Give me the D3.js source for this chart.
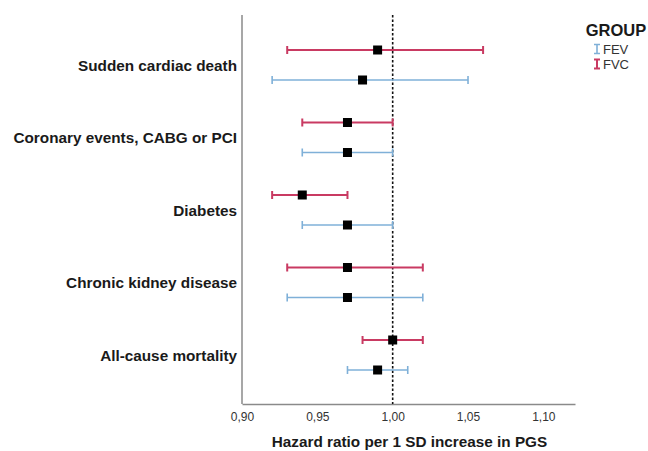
<!DOCTYPE html>
<html><head><meta charset="utf-8">
<script src="https://cdn.jsdelivr.net/npm/d3@7"></script>
<style>body{margin:0;background:#fff}svg{display:block}</style>
</head><body>
<svg id="chart" width="648" height="451"></svg>
<script>
const categories = ["Sudden cardiac death","Coronary events, CABG or PCI","Diabetes","Chronic kidney disease","All-cause mortality"];
const groups = ["FVC","FEV"];
const fvcEst = [0.99,0.97,0.94,0.97,1.00];
const fvcLow = [0.93,0.94,0.92,0.93,0.98];
const fvcHigh = [1.06,1.00,0.97,1.02,1.02];
const fevEst = [0.98,0.97,0.97,0.97,0.99];
const fevLow = [0.92,0.94,0.94,0.93,0.97];
const fevHigh = [1.05,1.00,1.00,1.02,1.01];
const xTicks = [0.90,0.95,1.00,1.05,1.10];
const legendItems = ["FEV","FVC"];

(function(){
const colors = {FEV:"#7fb0d8", FVC:"#c93a62"};
const svg = d3.select("#chart");
const pl = 242, pr = 575, pt = 15, pb = 404;
const font = "Liberation Sans, Arial, sans-serif";

const x = d3.scaleLinear().domain([0.90,1.121]).range([pl,pr]);
const y = d3.scalePoint().domain(categories).range([65,355]);
const yg = d3.scalePoint().domain(groups).range([-15,15]);

const rows = [];
categories.forEach((c,i)=>{
  rows.push({cat:c,g:"FVC",est:fvcEst[i],lo:fvcLow[i],hi:fvcHigh[i]});
  rows.push({cat:c,g:"FEV",est:fevEst[i],lo:fevLow[i],hi:fevHigh[i]});
});

const xAxis = d3.axisBottom(x).tickValues(xTicks).tickSize(0).tickPadding(8)
  .tickFormat(d=>d3.format(".2f")(d).replace(".",","));
const gx = svg.append("g").attr("transform",`translate(0,${pb})`).call(xAxis);
gx.select(".domain").attr("stroke","#8a8a8a").attr("stroke-width",1.5);
gx.selectAll("text").attr("font-family",font).attr("font-size",12).attr("fill","#333");

svg.append("line").attr("x1",pl).attr("x2",pl).attr("y1",pt).attr("y2",pb)
  .attr("stroke","#8a8a8a").attr("stroke-width",1.5);

svg.append("line").attr("x1",x(1)).attr("x2",x(1)).attr("y1",pt).attr("y2",pb)
  .attr("stroke","#111").attr("stroke-width",1.6).attr("stroke-dasharray","2.5,2");

svg.append("g").selectAll("text").data(categories).join("text")
  .attr("x",237).attr("y",d=>y(d)+5.5).attr("text-anchor","end")
  .attr("font-family",font).attr("font-weight","bold")
  .attr("font-size",15.3).attr("fill","#1a1a1a").text(d=>d);

const eb = svg.append("g").selectAll("g").data(rows).join("g")
  .attr("transform",d=>`translate(0,${y(d.cat)+yg(d.g)})`);
const sw = d=>d.g==="FVC"?2:1.6;
eb.append("line").attr("x1",d=>x(d.lo)).attr("x2",d=>x(d.hi)).attr("y1",0).attr("y2",0)
  .attr("stroke",d=>colors[d.g]).attr("stroke-width",sw);
eb.append("line").attr("x1",d=>x(d.lo)).attr("x2",d=>x(d.lo)).attr("y1",-4).attr("y2",4)
  .attr("stroke",d=>colors[d.g]).attr("stroke-width",sw);
eb.append("line").attr("x1",d=>x(d.hi)).attr("x2",d=>x(d.hi)).attr("y1",-4).attr("y2",4)
  .attr("stroke",d=>colors[d.g]).attr("stroke-width",sw);
eb.append("rect").attr("x",d=>x(d.est)-4.5).attr("y",-4.5).attr("width",9).attr("height",9).attr("fill","#000");

svg.append("text").attr("x",(pl+pr)/2+1).attr("y",447).attr("text-anchor","middle")
  .attr("font-family",font).attr("font-weight","bold")
  .attr("font-size",15.3).attr("fill","#1a1a1a").text("Hazard ratio per 1 SD increase in PGS");

svg.append("text").attr("x",616).attr("y",36).attr("text-anchor","middle")
  .attr("font-family",font).attr("font-weight","bold")
  .attr("font-size",16.5).attr("fill","#1a1a1a").text("GROUP");
const lg = svg.append("g").selectAll("g").data(legendItems).join("g")
  .attr("transform",(d,i)=>`translate(597,${49+i*15})`);
lg.append("path").attr("d","M-3,-4.5H3M0,-4.5V4.5M-3,4.5H3")
  .attr("stroke",d=>colors[d]).attr("stroke-width",d=>d==="FVC"?2:1.6).attr("fill","none");
lg.append("text").attr("x",6).attr("y",5)
  .attr("font-family",font).attr("font-size",13).attr("fill","#333").text(d=>d);
})();
</script>
</body></html>
